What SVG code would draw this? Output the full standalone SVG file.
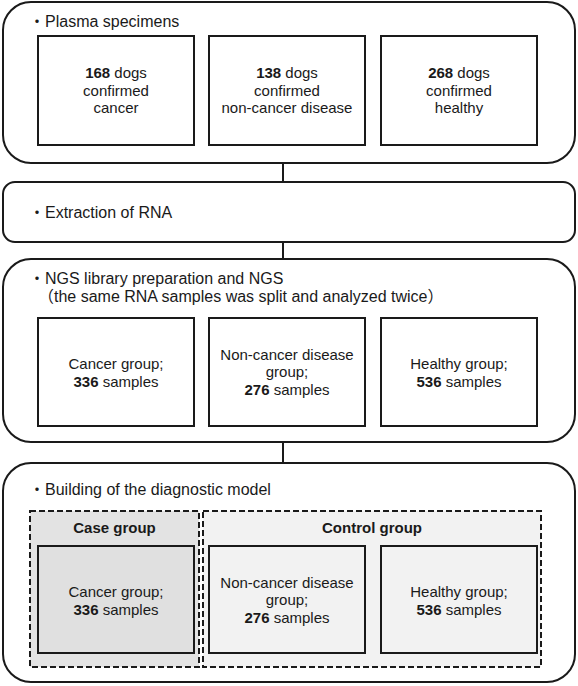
<svg xmlns="http://www.w3.org/2000/svg" width="578" height="686" viewBox="0 0 578 686">
<style>
text{font-family:"Liberation Sans",Arial,"Noto Sans CJK JP",sans-serif;fill:#1a1a1a}
.h{font-size:16px}
.t{font-size:15px;text-anchor:middle}
.b{font-weight:bold}
.outer{fill:#fff;stroke:#1a1a1a;stroke-width:2}
.box{fill:#fff;stroke:#1a1a1a;stroke-width:2}
.dash{stroke:#1a1a1a;stroke-width:2;stroke-dasharray:6 3}
.conn{stroke:#1a1a1a;stroke-width:2;fill:none}
</style>
<g id="connectors">
<line class="conn" x1="283" y1="163" x2="283" y2="182"/>
<line class="conn" x1="283" y1="242" x2="283" y2="259"/>
<line class="conn" x1="283" y1="442" x2="283" y2="463"/>
</g>
<g id="plasma">
<rect class="outer" x="3" y="2" width="572" height="161" rx="28"/>
<text class="h" x="29" y="27">・Plasma specimens</text>
</g>
<g id="p-cancer">
<rect class="box" x="38" y="36" width="156" height="109"/>
<text class="t" x="116" y="78"><tspan class="b">168</tspan> dogs</text>
<text class="t" x="116" y="95.5">confirmed</text>
<text class="t" x="116" y="113">cancer</text>
</g>
<g id="p-noncancer">
<rect class="box" x="209" y="36" width="156" height="109"/>
<text class="t" x="287" y="78"><tspan class="b">138</tspan> dogs</text>
<text class="t" x="287" y="95.5">confirmed</text>
<text class="t" x="287" y="113">non-cancer disease</text>
</g>
<g id="p-healthy">
<rect class="box" x="381" y="36" width="156" height="109"/>
<text class="t" x="459" y="78"><tspan class="b">268</tspan> dogs</text>
<text class="t" x="459" y="95.5">confirmed</text>
<text class="t" x="459" y="113">healthy</text>
</g>
<g id="extraction">
<rect class="outer" x="3" y="182" width="572" height="60" rx="12"/>
<text class="h" x="29" y="218">・Extraction of RNA</text>
</g>
<g id="ngs">
<rect class="outer" x="3" y="259" width="572" height="183" rx="28"/>
<text class="h" x="29" y="284">・NGS library preparation and NGS</text>
<text class="h" x="38" y="302">（the same RNA samples was split and analyzed twice）</text>
</g>
<g id="n-cancer">
<rect class="box" x="38" y="318" width="156" height="108"/>
<text class="t" x="116" y="369">Cancer group;</text>
<text class="t" x="116" y="386.5"><tspan class="b">336</tspan> samples</text>
</g>
<g id="n-noncancer">
<rect class="box" x="209" y="318" width="156" height="108"/>
<text class="t" x="287" y="359.5">Non-cancer disease</text>
<text class="t" x="287" y="377">group;</text>
<text class="t" x="287" y="394.5"><tspan class="b">276</tspan> samples</text>
</g>
<g id="n-healthy">
<rect class="box" x="381" y="318" width="156" height="108"/>
<text class="t" x="459" y="369">Healthy group;</text>
<text class="t" x="459" y="386.5"><tspan class="b">536</tspan> samples</text>
</g>
<g id="model">
<rect class="outer" x="3" y="463" width="572" height="219" rx="28"/>
<text class="h" x="29" y="495">・Building of the diagnostic model</text>
</g>
<g id="case-group">
<rect class="dash" x="30" y="511" width="169" height="156" fill="#e3e3e3"/>
<text class="t b" x="114.5" y="533">Case group</text>
</g>
<g id="control-group">
<rect class="dash" x="203" y="511" width="338" height="156" fill="#f2f2f2"/>
<text class="t b" x="372" y="533">Control group</text>
</g>
<g id="m-cancer">
<rect class="box" x="38" y="546" width="156" height="107" style="fill:#e0e0e0"/>
<text class="t" x="116" y="597">Cancer group;</text>
<text class="t" x="116" y="614.5"><tspan class="b">336</tspan> samples</text>
</g>
<g id="m-noncancer">
<rect class="box" x="209" y="546" width="156" height="107" style="fill:#f2f2f2"/>
<text class="t" x="287" y="587.5">Non-cancer disease</text>
<text class="t" x="287" y="605">group;</text>
<text class="t" x="287" y="622.5"><tspan class="b">276</tspan> samples</text>
</g>
<g id="m-healthy">
<rect class="box" x="381" y="546" width="156" height="107" style="fill:#f2f2f2"/>
<text class="t" x="459" y="597">Healthy group;</text>
<text class="t" x="459" y="614.5"><tspan class="b">536</tspan> samples</text>
</g>
</svg>
